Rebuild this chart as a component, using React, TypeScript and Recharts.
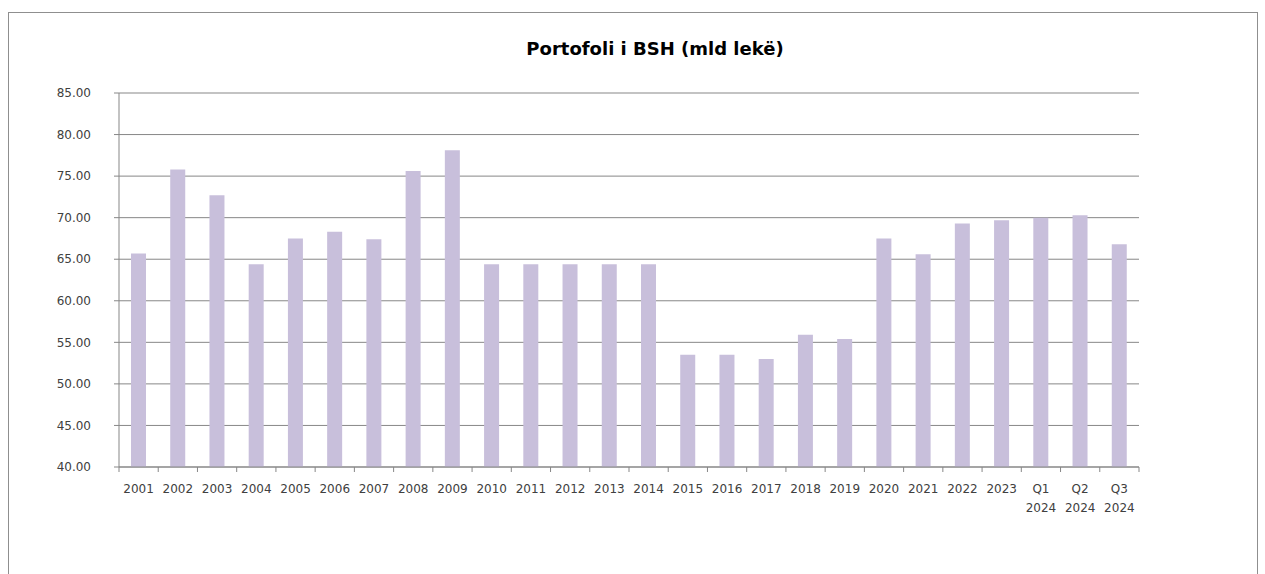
import { Bar, BarChart, CartesianGrid, XAxis, YAxis } from "recharts";

const categories = [
  "2001", "2002", "2003", "2004", "2005", "2006", "2007", "2008", "2009",
  "2010", "2011", "2012", "2013", "2014", "2015", "2016", "2017", "2018",
  "2019", "2020", "2021", "2022", "2023", "Q1 2024", "Q2 2024", "Q3 2024",
];

const portfolio = [
  65.7, 75.8, 72.7, 64.4, 67.5, 68.3, 67.4, 75.6, 78.1,
  64.4, 64.4, 64.4, 64.4, 64.4, 53.5, 53.5, 53.0, 55.9,
  55.4, 67.5, 65.6, 69.3, 69.7, 70.0, 70.3, 66.8,
];

const yTicks = [40, 45, 50, 55, 60, 65, 70, 75, 80, 85];

const TITLE = "Portofoli i BSH (mld lekë)";
const FONT = "'DejaVu Sans', sans-serif";
const GRID = "#878787";
const TEXT = "#404040";
const BAR = "#C8BFDB";

const data = categories.map((c, i) => ({ name: c, value: portfolio[i] }));

function XTick(props: any) {
  const { x, y, payload, index } = props;
  const half = payload && payload.offset ? payload.offset : 19.6;
  const parts = String(payload.value).split(" ");
  return (
    <g>
      <line x1={x - half} x2={x - half} y1={y} y2={y + 5} stroke={GRID} />
      {index === categories.length - 1 && (
        <line x1={x + half} x2={x + half} y1={y} y2={y + 5} stroke={GRID} />
      )}
      <text x={x} y={y + 26} textAnchor="middle" fill={TEXT} fontSize={12} fontFamily={FONT}>
        {parts.map((p, i) => (
          <tspan key={i} x={x} dy={i === 0 ? 0 : 19}>
            {p}
          </tspan>
        ))}
      </text>
    </g>
  );
}

export default function App() {
  return (
    <div
      style={{
        position: "fixed",
        left: 8,
        top: 12,
        width: 1250,
        height: 570,
        boxSizing: "border-box",
        border: "1px solid #8f8f8f",
        background: "#fff",
      }}
    >
      <div
        style={{
          position: "absolute",
          left: 446,
          top: 25,
          width: 400,
          textAlign: "center",
          fontFamily: FONT,
          fontWeight: "bold",
          fontSize: 18,
          lineHeight: "22px",
          color: "#000",
          whiteSpace: "nowrap",
        }}
      >
        {TITLE}
      </div>
      <BarChart
        width={1248}
        height={555}
        data={data}
        margin={{ top: 80, right: 118, left: 50, bottom: 41 }}
      >
        <CartesianGrid vertical={false} stroke={GRID} />
        <XAxis
          dataKey="name"
          interval={0}
          height={60}
          stroke={GRID}
          tickLine={false}
          tickSize={0}
          tickMargin={0}
          tick={<XTick />}
        />
        <YAxis
          domain={[40, 85]}
          ticks={yTicks}
          width={60}
          stroke={GRID}
          tickSize={5}
          tickMargin={23}
          tick={{ fill: TEXT, fontSize: 12, fontFamily: FONT }}
          tickFormatter={(v: number) => v.toFixed(2)}
        />
        <Bar dataKey="value" fill={BAR} barSize={15} isAnimationActive={false} />
      </BarChart>
    </div>
  );
}
